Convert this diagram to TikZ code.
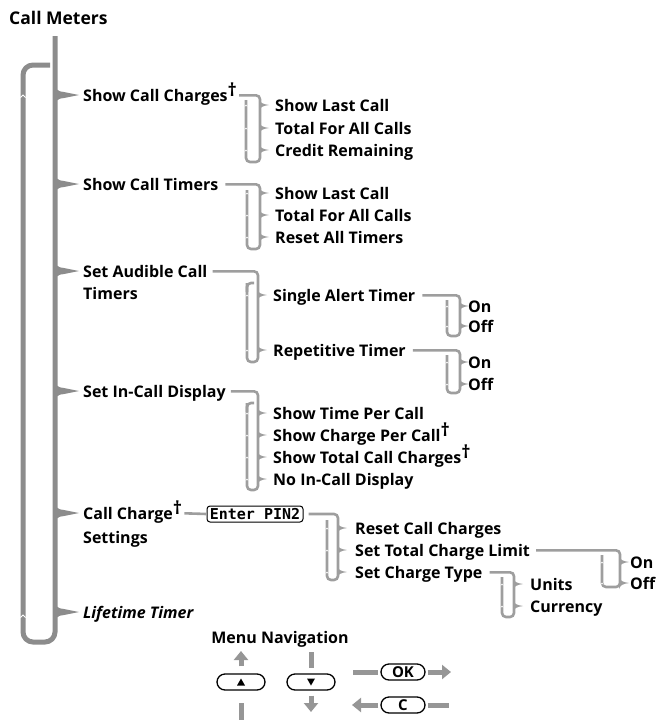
\documentclass[tikz,border=0pt]{standalone}
\usepackage{fontspec}
\setmainfont{Open Sans}
\newfontfamily\lcdfont{DejaVu Sans Mono}
\usetikzlibrary{arrows.meta}
\definecolor{trunkgray}{RGB}{140,140,140}
\definecolor{subgray}{RGB}{158,158,158}
\definecolor{navgray}{RGB}{150,150,150}
\newcommand\dg{\raisebox{4.5pt}{\fontsize{18}{18}\selectfont †}}
% #1 start point, #2 left x, #3 right x, #4 top of left line, #5 bottom y, #6 child ys
\newcommand\grp[6]{%
  \draw[sub] (#1) -| (#3,#5) -| (#2,#4);
  \foreach \c in {#6}{%
    \fill[subgray] (#3-1,\c-6) .. controls (#3+0.5,\c-2) and (#3+2.5,\c-1) .. (#3+9,\c) .. controls (#3+2.5,\c+1) and (#3+0.5,\c+2) .. (#3-1,\c+6) -- cycle;
    \draw[white,line width=0.6pt] (#2-1.3,\c+1.4) -- (#2,\c) -- (#2+1.3,\c+1.4);
  }%
}
\begin{document}
\begin{tikzpicture}[x=1pt,y=-1pt,
  lbl/.style={anchor=base west, inner sep=0, font=\fontsize{16}{19}\selectfont\bfseries},
  sub/.style={draw=subgray, line width=2.6pt, rounded corners=4pt},
  trunk/.style={draw=trunkgray, line width=5pt, rounded corners=10pt},
  btn/.style={draw=black, line width=1.3pt, fill=white, rounded corners=8pt, minimum width=48pt, minimum height=16pt, inner sep=0, font=\fontsize{15}{15}\selectfont\bfseries},
  nav/.style={draw=navgray, line width=5pt},
  navarr/.style={nav, -{Triangle[width=14pt,length=9pt]}}]
\useasboundingbox (0,0) rectangle (656,720);

% title
\node[lbl, font=\fontsize{17.5}{20}\selectfont\bfseries] (title) at (9,24) {Call Meters};

% trunk and loop
\draw[trunk] (55,36) -- (55,642) -- (23,642) -- (23,65) -- (50,65);
\foreach \y in {95,615}{
  \draw[white,line width=0.8pt] (20.5,\y+2.5) -- (23,\y) -- (25.5,\y+2.5);
}
\foreach \y in {95,184,271,391,513,612}{
  \fill[trunkgray] (55,\y-13) .. controls (55,\y-5) and (58,\y-3.5) .. (64,\y-3) -- (79,\y) -- (64,\y+3) .. controls (58,\y+3.5) and (55,\y+5) .. (55,\y+13) -- cycle;
}

% main items
\node[lbl] (m1) at (83,101) {Show Call Charges\dg};
\node[lbl] (m2) at (83,190) {Show Call Timers};
\node[lbl] (m3) at (83,277) {Set Audible Call};
\node[lbl] (m3b) at (83,299) {Timers};
\node[lbl] (m4) at (83,397) {Set In-Call Display};
\node[lbl] (m5) at (83,519) {Call Charge\dg};
\node[lbl] (m5b) at (83,543) {Settings};
\node[lbl, font=\fontsize{16}{19}\selectfont\bfseries\itshape] (m6) at (83,618) {Lifetime Timer};

% group 1
\node[lbl] (a1) at (275,111) {Show Last Call};
\node[lbl] (a2) at (275,134) {Total For All Calls};
\node[lbl] (a3) at (275,156) {Credit Remaining};
\grp{[xshift=2pt,yshift=5.7pt]m1.base east}{246}{260}{100}{162}{105,128,150}

% group 2
\node[lbl] (b1) at (275,199) {Show Last Call};
\node[lbl] (b2) at (275,221) {Total For All Calls};
\node[lbl] (b3) at (275,243) {Reset All Timers};
\grp{[xshift=7pt,yshift=5.7pt]m2.base east}{247}{260}{190}{249}{193,215,237}

% group 3
\node[lbl] (c1) at (273,301) {Single Alert Timer};
\node[lbl] (c2) at (273,356) {Repetitive Timer};
\grp{[xshift=5pt,yshift=5.7pt]m3.base east}{247}{258}{283}{362}{295,350}
\draw[sub] (247,292) |- (254,283);
\node[lbl] (c1a) at (468,312) {On};
\node[lbl] (c1b) at (468,332) {Off};
\grp{[xshift=7pt,yshift=5.7pt]c1.base east}{447}{460}{300}{336}{306,326}
\node[lbl] (c2a) at (468,368) {On};
\node[lbl] (c2b) at (468,390) {Off};
\grp{[xshift=7pt,yshift=5.7pt]c2.base east}{447}{460}{355}{393}{362,384}

% group 4
\node[lbl] (d1) at (273,419) {Show Time Per Call};
\node[lbl] (d2) at (273,441) {Show Charge Per Call\dg};
\node[lbl] (d3) at (273,463) {Show Total Call Charges\dg};
\node[lbl] (d4) at (273,485) {No In-Call Display};
\grp{[xshift=5pt,yshift=5.7pt]m4.base east}{247}{258}{403}{490}{413,435,457,479}
\draw[sub] (247,412) |- (254,403);

% group 5
\node[draw=black, line width=1pt, rounded corners=3pt, fill=white, minimum width=96pt, minimum height=16pt, inner sep=0, font=\lcdfont\bfseries\fontsize{15}{15}\selectfont] (pin) at (255,514) {Enter PIN2};
\draw[sub] ([xshift=2pt,yshift=5.7pt]m5.base east) -- (pin.west);
\node[lbl] (e1) at (355,534) {Reset Call Charges};
\node[lbl] (e2) at (355,556) {Set Total Charge Limit};
\node[lbl] (e3) at (355,578) {Set Charge Type};
\grp{[xshift=5pt]pin.east}{327}{338}{520}{580}{528,550,572}
\node[lbl] (e2a) at (630,568) {On};
\node[lbl] (e2b) at (630,589) {Off};
\grp{[xshift=6pt,yshift=5.7pt]e2.base east}{602}{620}{555}{587}{562,583}
\node[lbl] (e3a) at (530,590) {Units};
\node[lbl] (e3b) at (530,612) {Currency};
\grp{[xshift=7pt,yshift=5.7pt]e3.base east}{502}{514}{577}{617}{584,606}

% menu navigation
\node[lbl, anchor=base] (mn) at (280,643) {Menu Navigation};
\node[btn] (up) at (241,682) {};
\fill (237,685.5) -- (245,685.5) -- (241,678.5) -- cycle;
\node[btn] (dn) at (311,682) {};
\fill (307,678.5) -- (315,678.5) -- (311,685.5) -- cycle;
\node[btn, minimum width=44pt] (ok) at (403,672) {OK};
\node[btn, minimum width=44pt] (cb) at (403,705) {C};
\coordinate (upT) at (241,651);
\coordinate (upB) at (241,720);
\coordinate (dnT) at (311,652);
\coordinate (dnB) at (311,712);
\coordinate (okL) at (353,672);
\coordinate (okR) at (451,672);
\coordinate (cL) at (352,705);
\coordinate (cR) at (449,705);
\draw[navarr] ([yshift=7pt]up.north) -- (upT);
\draw[nav] (upB) -- ([yshift=-12pt]up.south);
\draw[nav] (dnT) -- ([yshift=5pt]dn.north);
\draw[navarr] ([yshift=-5pt]dn.south) -- (dnB);
\draw[nav] (okL) -- ([xshift=-2pt]ok.west);
\draw[navarr] ([xshift=2pt]ok.east) -- (okR);
\draw[navarr] ([xshift=-2pt]cb.west) -- (cL);
\draw[nav] ([xshift=2pt]cb.east) -- (cR);
\end{tikzpicture}
\end{document}
